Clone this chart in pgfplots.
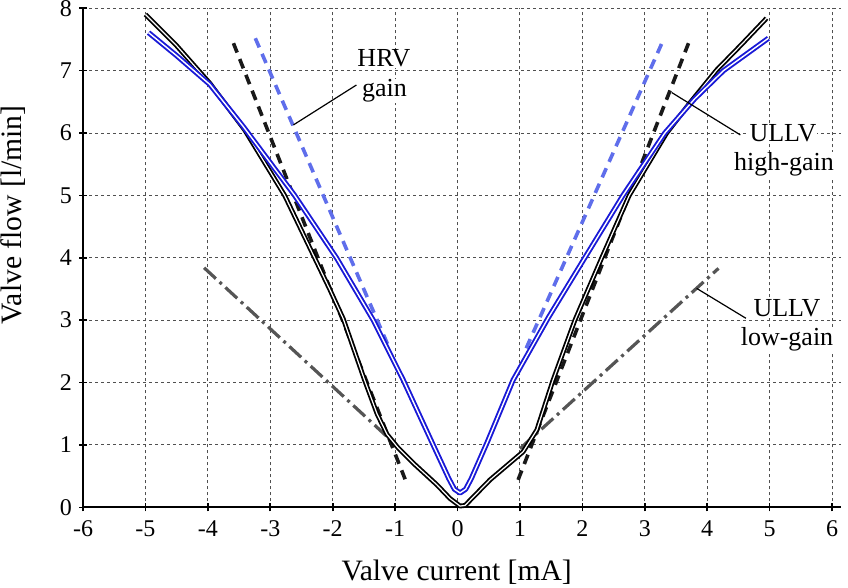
\documentclass[border=0pt]{standalone}
\usepackage{fontspec}
\setmainfont{Liberation Serif}
\usepackage{pgfplots}
\usepackage{pgfplotstable}
\pgfplotsset{compat=1.18}
\definecolor{myblue}{RGB}{25,25,215}
\definecolor{dblue}{RGB}{95,110,235}
\definecolor{ddot}{RGB}{85,85,85}
\definecolor{gridc}{RGB}{80,80,80}

\pgfplotstableread{
x y
-5.00 7.90
-4.50 7.40
-3.97 6.80
-3.41 6.05
-2.77 5.00
-2.29 4.00
-2.05 3.50
-1.83 3.02
-1.49 2.04
-1.29 1.50
-1.13 1.17
-0.95 0.95
-0.70 0.70
-0.33 0.36
-0.12 0.14
0.04 0.02
0.12 0.03
0.52 0.44
1.05 0.89
1.27 1.24
1.53 2.04
1.88 3.00
2.31 4.00
2.75 5.00
3.35 6.00
3.72 6.48
4.15 7.01
4.55 7.42
4.95 7.84
}\blackc

\pgfplotstableread{
x y
-4.95 7.61
-4.50 7.24
-3.97 6.78
-3.43 6.10
-2.61 5.00
-1.94 4.00
-1.35 3.00
-0.87 2.04
-0.40 1.02
-0.14 0.46
-0.05 0.29
0.04 0.23
0.13 0.29
0.22 0.46
0.47 1.03
0.89 2.04
1.46 3.05
2.02 3.97
2.65 5.00
3.32 6.00
3.80 6.55
4.26 7.00
4.98 7.52
}\bluec

\begin{document}
\begin{tikzpicture}
\begin{axis}[
 scale only axis, width=379.2pt, height=249.5pt,
 xmin=-6, xmax=6.15, ymin=0, ymax=8,
 axis x line=bottom, axis y line=left,
 axis line style={-, line width=1pt, black},
 xtick={-6,-5,...,6}, ytick={0,1,...,8},
 tick align=center, major tick length=4pt, tick style={black, line width=0.8pt},
 grid=major, grid style={gridc, line width=0.5pt, dash pattern=on 1.5pt off 1.5pt},
 /pgf/number format/assume math mode=true,
 ticklabel style={font=\fontsize{12}{13}\selectfont},
 xticklabel style={yshift=-1pt},
 xlabel={Valve current [mA]}, ylabel={Valve flow [l/min]},
 label style={font=\fontsize{14.8}{16}\selectfont},
 xlabel style={at={(axis description cs:0.4928,-0.131)}, anchor=center},
 ylabel style={at={(axis description cs:-0.0923,0.586)}, anchor=center},
 clip=false,
]
% gain lines
\addplot[black!90, line width=1.8pt, dash pattern=on 5pt off 3.5pt] coordinates {(-3.59,7.44) (-0.84,0.45)};
\addplot[black!90, line width=1.8pt, dash pattern=on 5pt off 3.5pt] coordinates {(0.97,0.44) (3.70,7.44)};
\addplot[dblue, line width=1.8pt, dash pattern=on 5pt off 3.5pt] coordinates {(-3.24,7.52) (-1.08,2.52)};
\addplot[dblue, line width=1.8pt, dash pattern=on 5pt off 3.5pt] coordinates {(1.10,2.55) (3.30,7.50)};
\addplot[ddot, line width=1.6pt, dash pattern=on 8pt off 2.5pt on 1.5pt off 2.5pt] coordinates {(-4.06,3.84) (-1.05,1.06)};
\addplot[ddot, line width=1.6pt, dash pattern=on 8pt off 2.5pt on 1.5pt off 2.5pt] coordinates {(1.00,0.94) (4.18,3.83)};
% measured curves (double lines)
\addplot[black, line width=2.4pt, line join=round] table {\blackc};
\addplot[white, line width=0.6pt, line join=round] table {\blackc};
\addplot[myblue, line width=2.6pt, line join=round] table {\bluec};
\addplot[white, line width=0.7pt, line join=round] table {\bluec};
% annotations
\draw[black, line width=0.6pt] (axis cs:-2.63,6.13) -- (axis cs:-1.62,6.77);
\draw[black, line width=0.6pt] (axis cs:3.43,6.65) -- (axis cs:4.53,5.97);
\draw[black, line width=0.6pt] (axis cs:3.83,3.51) -- (axis cs:4.62,3.03);
\tikzset{ann/.style={fill=white, inner sep=0.5pt, anchor=base, font=\fontsize{13}{14}\selectfont}}
\node[ann] at (axis cs:-1.18,7.06) {HRV};
\node[ann] at (axis cs:-1.17,6.58) {gain};
\node[ann] at (axis cs:5.214,5.857) {ULLV};
\node[ann] at (axis cs:5.23,5.393) {high-gain};
\node[ann] at (axis cs:5.278,3.053) {ULLV};
\node[ann] at (axis cs:5.278,2.588) {low-gain};
\coordinate (bbl) at (axis cs:-7.33,-1.29);
\coordinate (btr) at (axis cs:6.255,8.133);
\end{axis}
\pgfresetboundingbox
\path[use as bounding box] (bbl) rectangle (btr);
\end{tikzpicture}
\end{document}
